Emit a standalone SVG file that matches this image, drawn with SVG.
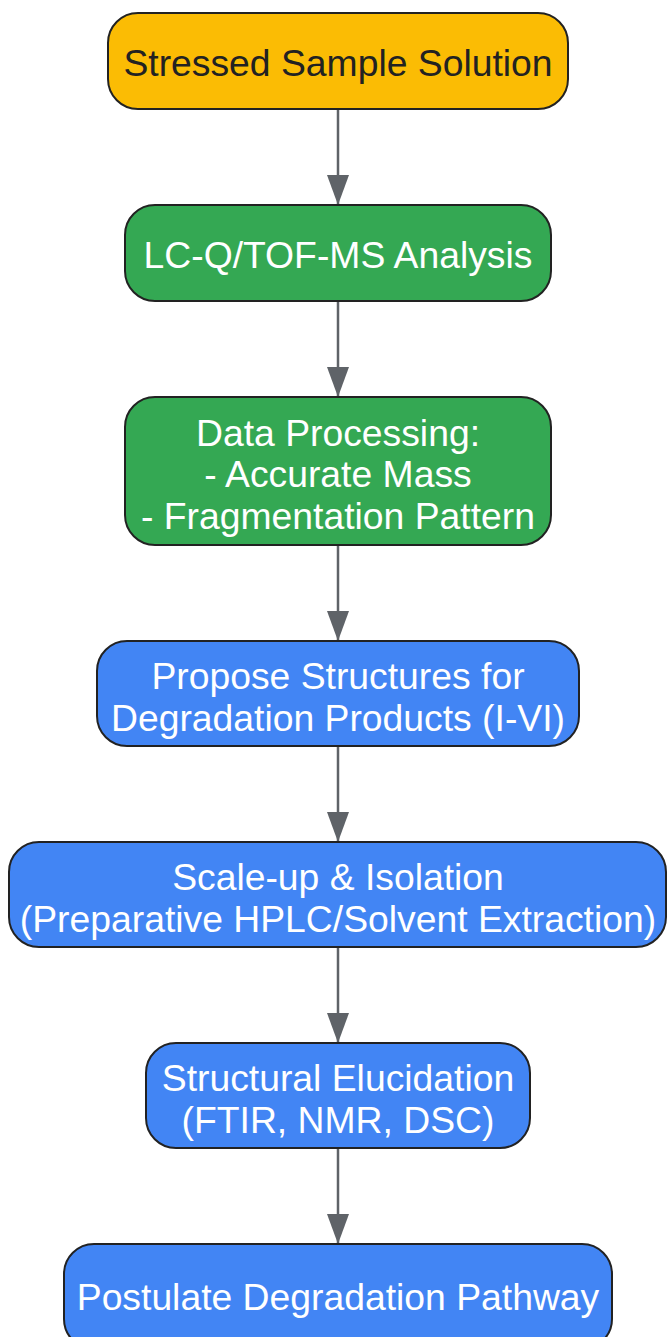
<svg xmlns="http://www.w3.org/2000/svg" width="667" height="1337" viewBox="0 0 667 1337">
<style>
.n{stroke:#222;stroke-width:2}
.y{fill:#FBBC04}.g{fill:#34A853}.b{fill:#4285F4}
text{font-family:"Liberation Sans",Arial,sans-serif;font-size:37.3px;text-anchor:middle;fill:#fff}
.dk{fill:#222}
.e{stroke:#5f6368;stroke-width:2.5;fill:none}
</style>
<defs>
<marker id="a" viewBox="0 0 30 22" refX="30" refY="11" markerUnits="userSpaceOnUse" markerWidth="30" markerHeight="22" orient="auto">
<path d="M0,0 L30,11 L0,22 Z" fill="#5f6368"/>
</marker>
</defs>
<g id="edges">
<line class="e" x1="338" y1="109" x2="338" y2="205" marker-end="url(#a)"/>
<line class="e" x1="338" y1="301" x2="338" y2="397" marker-end="url(#a)"/>
<line class="e" x1="338" y1="545" x2="338" y2="641" marker-end="url(#a)"/>
<line class="e" x1="338" y1="746" x2="338" y2="842" marker-end="url(#a)"/>
<line class="e" x1="338" y1="947" x2="338" y2="1043" marker-end="url(#a)"/>
<line class="e" x1="338" y1="1148" x2="338" y2="1244" marker-end="url(#a)"/>
</g>
<g id="n1"><rect class="n y" x="108" y="13" width="460" height="96" rx="30"/><text class="dk" x="338" y="76">Stressed Sample Solution</text></g>
<g id="n2"><rect class="n g" x="125" y="205" width="426" height="96" rx="30"/><text x="338" y="268">LC-Q/TOF-MS Analysis</text></g>
<g id="n3"><rect class="n g" x="125" y="397" width="426" height="148" rx="30"/><text x="338" y="446">Data Processing:</text><text x="338" y="487">- Accurate Mass</text><text x="338" y="529">- Fragmentation Pattern</text></g>
<g id="n4"><rect class="n b" x="97" y="641" width="482" height="105" rx="30"/><text x="338" y="689">Propose Structures for</text><text x="338" y="731">Degradation Products (I-VI)</text></g>
<g id="n5"><rect class="n b" x="9" y="842" width="657" height="105" rx="30"/><text x="338" y="890">Scale-up &amp; Isolation</text><text x="338" y="932">(Preparative HPLC/Solvent Extraction)</text></g>
<g id="n6"><rect class="n b" x="146" y="1043" width="384" height="105" rx="30"/><text x="338" y="1091">Structural Elucidation</text><text x="338" y="1133">(FTIR, NMR, DSC)</text></g>
<g id="n7"><rect class="n b" x="64" y="1244" width="548" height="105" rx="30"/><text x="338" y="1310">Postulate Degradation Pathway</text></g>
</svg>
